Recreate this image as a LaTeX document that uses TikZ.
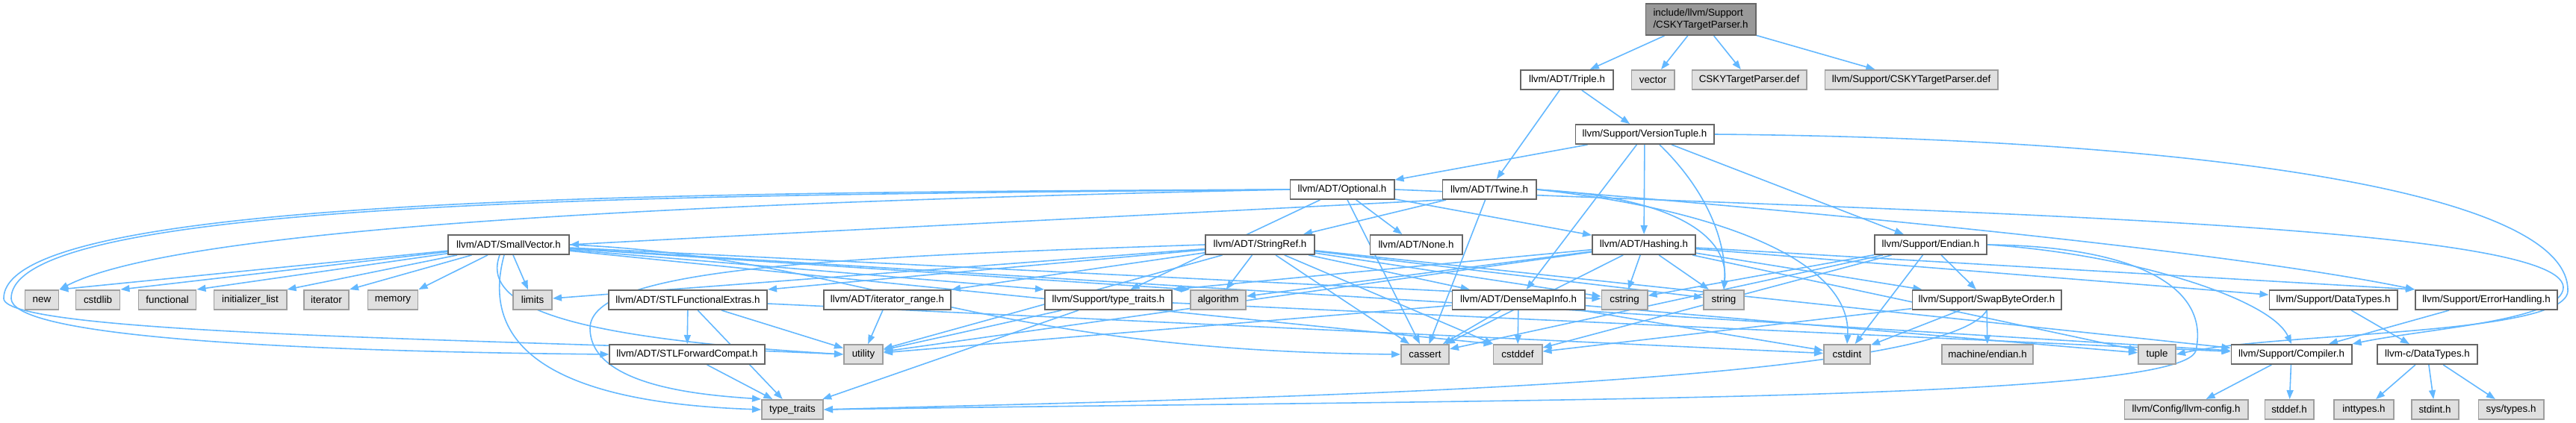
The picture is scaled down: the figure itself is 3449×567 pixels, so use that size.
\documentclass[tikz,border=0pt]{standalone}
\usepackage{fontspec}
\setmainfont{Liberation Sans}
\usetikzlibrary{arrows.meta,backgrounds}
\definecolor{depblue}{HTML}{63B8FF}
\definecolor{sysgray}{HTML}{E0E0E0}
\definecolor{rootgray}{HTML}{999999}
\tikzstyle{hdr}=[rectangle,draw=black!60,fill=white,line width=0.55pt,minimum height=0.26cm,inner sep=0pt,font=\fontsize{3.8}{4.6}\selectfont]
\tikzstyle{sys}=[hdr,draw=black!38,fill=sysgray]
\tikzstyle{roothdr}=[hdr,fill=rootgray,minimum height=0.42cm,align=left]
\tikzstyle{dep}=[-{Triangle[length=0.12cm,width=0.09cm]},draw=depblue,line width=0.45pt]

\begin{document}
\begin{tikzpicture}[x=0.01cm,y=0.01cm]
\useasboundingbox (0,0) rectangle (3449,-567);
% top rows
\node[roothdr,minimum width=1.47cm] (root) at (2277,-26) {include/llvm/Support\\/CSKYTargetParser.h};
\node[hdr,minimum width=1.24cm] (triple) at (2098,-107) {llvm/ADT/Triple.h};
\node[sys,minimum width=0.57cm] (vector) at (2213,-107) {vector};
\node[sys,minimum width=1.53cm] (cskydef) at (2342,-107) {CSKYTargetParser.def};
\node[sys,minimum width=2.31cm] (supcskydef) at (2559,-107) {llvm/Support/CSKYTargetParser.def};
\node[hdr,minimum width=1.85cm] (vtuple) at (2202,-180) {llvm/Support/VersionTuple.h};
\node[hdr,minimum width=1.39cm] (optional) at (1797,-254) {llvm/ADT/Optional.h};
\node[hdr,minimum width=1.25cm] (twine) at (1994,-254) {llvm/ADT/Twine.h};
\node[hdr,minimum width=1.62cm] (smallvec) at (681,-328) {llvm/ADT/SmallVector.h};
\node[hdr,minimum width=1.46cm] (stringref) at (1687,-328) {llvm/ADT/StringRef.h};
\node[hdr,minimum width=1.23cm] (none) at (1896,-328) {llvm/ADT/None.h};
\node[hdr,minimum width=1.38cm] (hashing) at (2201,-328) {llvm/ADT/Hashing.h};
\node[hdr,minimum width=1.50cm] (endian) at (2585,-328) {llvm/Support/Endian.h};
% row of includes
\node[sys,minimum width=0.45cm] (new) at (56,-402) {new};
\node[sys,minimum width=0.59cm] (cstdlib) at (131,-402) {cstdlib};
\node[sys,minimum width=0.77cm] (functional) at (224,-402) {functional};
\node[sys,minimum width=0.97cm] (initlist) at (335,-402) {initializer\_list};
\node[sys,minimum width=0.60cm] (iterator) at (437,-402) {iterator};
\node[sys,minimum width=0.67cm] (memory) at (526,-402) {memory};
\node[sys,minimum width=0.52cm] (limits) at (713,-402) {limits};
\node[hdr,minimum width=2.12cm] (stlfunc) at (921,-402) {llvm/ADT/STLFunctionalExtras.h};
\node[hdr,minimum width=1.70cm] (iterrange) at (1188,-402) {llvm/ADT/iterator\_range.h};
\node[hdr,minimum width=1.70cm] (sptraits) at (1484,-402) {llvm/Support/type\_traits.h};
\node[sys,minimum width=0.74cm] (algorithm) at (1631,-402) {algorithm};
\node[hdr,minimum width=1.77cm] (densemap) at (2033,-402) {llvm/ADT/DenseMapInfo.h};
\node[sys,minimum width=0.61cm] (cstring) at (2175,-402) {cstring};
\node[sys,minimum width=0.54cm] (string) at (2308,-402) {string};
\node[hdr,minimum width=1.99cm] (swap) at (2660,-402) {llvm/Support/SwapByteOrder.h};
\node[hdr,minimum width=1.71cm] (sdatatypes) at (3124,-402) {llvm/Support/DataTypes.h};
\node[hdr,minimum width=1.90cm] (errhandling) at (3329,-402) {llvm/Support/ErrorHandling.h};
% lower rows
\node[hdr,minimum width=2.07cm] (stlfwd) at (920,-475) {llvm/ADT/STLForwardCompat.h};
\node[sys,minimum width=0.52cm] (utility) at (1156,-475) {utility};
\node[sys,minimum width=0.64cm] (cassert) at (1908,-475) {cassert};
\node[sys,minimum width=0.65cm] (cstddef) at (2032,-475) {cstddef};
\node[sys,minimum width=0.62cm] (cstdint) at (2473,-475) {cstdint};
\node[sys,minimum width=1.22cm] (machendian) at (2661,-475) {machine/endian.h};
\node[sys,minimum width=0.50cm] (tuple) at (2888,-475) {tuple};
\node[hdr,minimum width=1.61cm] (compiler) at (3068,-475) {llvm/Support/Compiler.h};
\node[hdr,minimum width=1.34cm] (cdatatypes) at (3250,-475) {llvm-c/DataTypes.h};
\node[sys,minimum width=0.82cm] (typetraits) at (1061,-549) {type\_traits};
\node[sys,minimum width=1.65cm] (llvmconfig) at (2927,-549) {llvm/Config/llvm-config.h};
\node[sys,minimum width=0.65cm] (stddef) at (3065,-549) {stddef.h};
\node[sys,minimum width=0.80cm] (inttypes) at (3165,-549) {inttypes.h};
\node[sys,minimum width=0.63cm] (stdint) at (3260,-549) {stdint.h};
\node[sys,minimum width=0.87cm] (systypes) at (3362,-549) {sys/types.h};

\begin{pgfonlayer}{background}
\fill[white] (0,0) rectangle (3449,-567);
\foreach \a/\b in {root/triple,root/vector,root/cskydef,root/supcskydef,
  triple/twine,triple/vtuple,vtuple/optional,vtuple/densemap,vtuple/hashing,vtuple/endian,
  optional/hashing,optional/none,optional/cassert,optional/sptraits,
  twine/stringref,twine/cassert,
  smallvec/limits,smallvec/cstring,smallvec/compiler,
  stringref/densemap,stringref/algorithm,stringref/cassert,stringref/cstddef,stringref/cstring,
  stringref/string,stringref/utility,stringref/compiler,stringref/limits,
  hashing/swap,hashing/cassert,hashing/cstring,hashing/string,hashing/tuple,hashing/algorithm,
  hashing/utility,hashing/sdatatypes,
  endian/swap,endian/cassert,endian/cstddef,endian/cstdint,endian/cstring,
  stlfunc/stlfwd,stlfunc/typetraits,stlfunc/utility,stlfunc/cstdint,
  stlfwd/typetraits,iterrange/utility,
  sptraits/utility,sptraits/typetraits,sptraits/compiler,
  densemap/cassert,densemap/cstddef,densemap/cstdint,densemap/tuple,densemap/utility,
  swap/cstddef,swap/cstdint,swap/machendian,
  sdatatypes/cdatatypes,errhandling/compiler,compiler/llvmconfig,compiler/stddef,
  cdatatypes/inttypes,cdatatypes/stdint,cdatatypes/systypes}
  \draw[dep] (\a) -- (\b);
\foreach \b in {new,cstdlib,functional,initlist,iterator,memory}
  \draw[dep] (smallvec) -- (\b.north east);
\draw[dep] (smallvec) -- (sptraits.north west);
\draw[dep] (smallvec) -- (algorithm.north west);
\draw[dep] (smallvec) -- (cstddef.north west);
\draw[dep] (stringref) -- (stlfunc.north east);
\draw[dep] (stringref) -- (iterrange.north east);
\draw[dep] (hashing) -- (sptraits.north east);
\draw[dep] (hashing) -- (errhandling.north west);
% long curved edges
\draw[dep] (optional.west) .. controls (1000,-270) and (250,-300) .. (new.north east);
\draw[dep] (optional.west) .. controls (900,-262) and (15,-265) .. (15,-400) .. controls (15,-445) and (300,-470) .. (stlfwd.west);
\draw[dep] (optional.west) .. controls (900,-258) and (5,-262) .. (5,-400) .. controls (5,-450) and (700,-455) .. (utility.west);
\draw[dep] (optional.east) .. controls (2600,-285) and (3430,-300) .. (3432,-385) .. controls (3432,-430) and (3250,-440) .. (compiler.north east);
\draw[dep] (vtuple.east) .. controls (2900,-185) and (3440,-250) .. (3438,-390) .. controls (3436,-450) and (3050,-445) .. (tuple.east);
\draw[dep] ([xshift=0.2cm]vtuple.south) .. controls (2290,-260) and (2312,-330) .. (string.north);
\draw[dep] (twine.south west) .. controls (1600,-285) and (1000,-315) .. (smallvec.east);
\draw[dep] (twine.east) .. controls (2500,-290) and (3000,-340) .. (errhandling.north west);
\draw[dep] (twine.east) .. controls (2250,-265) and (2315,-320) .. (string.north);
\draw[dep] (twine.east) .. controls (2300,-280) and (2480,-350) .. (cstdint.north);
\draw[dep] ([xshift=-0.12cm]smallvec.south) .. controls (640,-420) and (800,-455) .. (utility.west);
\draw[dep] ([xshift=-0.06cm]smallvec.south) .. controls (640,-470) and (750,-540) .. (typetraits.west);
\draw[dep] (smallvec.east) .. controls (1150,-345) and (1300,-470) .. (cassert.west);
\draw[dep] (stringref.west) .. controls (1100,-345) and (790,-360) .. (790,-440) .. controls (790,-520) and (950,-530) .. (typetraits.north west);
\draw[dep] (endian.east) .. controls (2850,-340) and (3040,-400) .. (compiler.north);
\draw[dep] (endian.east) .. controls (2850,-330) and (2960,-380) .. (2940,-470) .. controls (2920,-540) and (2000,-535) .. (typetraits.east);
\draw[dep] (swap.south) .. controls (2600,-520) and (1600,-535) .. (typetraits.east);
\end{pgfonlayer}
\end{tikzpicture}
\end{document}
